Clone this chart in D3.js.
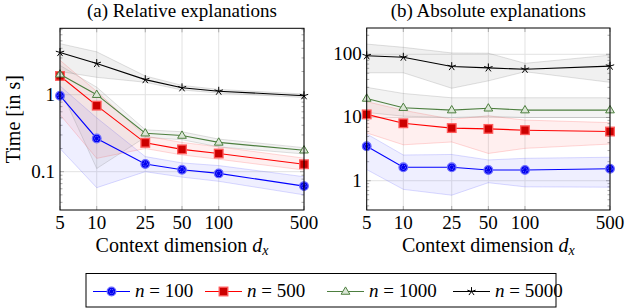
<!DOCTYPE html>
<html><head><meta charset="utf-8">
<script src="https://cdn.jsdelivr.net/npm/d3@7"></script>
<style>
html,body{margin:0;padding:0;background:#fff;}
svg{display:block;}
</style></head><body>
<svg id="chart" width="626" height="308"></svg>
<script>
// ---- data ----
const xVals = [5, 10, 25, 50, 100, 500];
const xTickLabels = ["5", "10", "25", "50", "100", "500"];
const seriesNames = ["n = 100", "n = 500", "n = 1000", "n = 5000"];

// (a) Relative explanations
const relN100   = [0.97, 0.27, 0.126, 0.106, 0.095, 0.065];
const relN100Lo = [0.2, 0.062, 0.1, 0.085, 0.075, 0.05];
const relN100Hi = [1.3, 0.5, 0.157, 0.13, 0.12, 0.086];
const relN500   = [1.75, 0.72, 0.237, 0.195, 0.172, 0.125];
const relN500Lo = [0.55, 0.149, 0.2, 0.165, 0.145, 0.105];
const relN500Hi = [2.8, 1.1, 0.29, 0.24, 0.21, 0.15];
const relN1000   = [1.84, 1.0, 0.316, 0.295, 0.24, 0.19];
const relN1000Lo = [1.2, 0.11, 0.28, 0.26, 0.21, 0.17];
const relN1000Hi = [2.4, 1.25, 0.35, 0.33, 0.265, 0.205];
const relN5000   = [3.53, 2.54, 1.57, 1.23, 1.11, 0.97];
const relN5000Lo = [2.0, 1.68, 1.45, 1.15, 1.05, 0.92];
const relN5000Hi = [4.6, 3.6, 1.75, 1.32, 1.17, 1.02];
const relYTicks = [0.1, 1];
const relYTickLabels = ["0.1", "1"];

// (b) Absolute explanations
const absN100   = [3.5, 1.63, 1.63, 1.48, 1.48, 1.55];
const absN100Lo = [1.5, 0.73, 0.59, 0.93, 0.8, 0.79];
const absN100Hi = [5.5, 2.55, 2.6, 2.13, 2.26, 2.35];
const absN500   = [11.2, 8.1, 6.8, 6.6, 6.3, 6.0];
const absN500Lo = [5.7, 3.7, 4.1, 2.7, 3.25, 3.8];
const absN500Hi = [17.8, 13, 9.4, 10.6, 9.1, 8.3];
const absN1000   = [20, 14.3, 13.1, 14, 13.1, 13.1];
const absN1000Lo = [12, 10.5, 10, 10.5, 10, 10];
const absN1000Hi = [30, 24, 20.5, 20.5, 20.5, 20.5];
const absN5000   = [95, 90, 64, 61, 58, 65];
const absN5000Lo = [51, 51, 29, 38, 53, 36];
const absN5000Hi = [145, 129, 105, 104, 72, 97];
const absYTicks = [1, 10, 100];
const absYTickLabels = ["1", "10", "100"];

// ---- styles ----
const FONT = "Liberation Serif";
const styles = [
  {line: "#0000ff", bandFill: "rgba(80,80,255,0.09)", bandEdge: "rgba(90,90,255,0.22)", mark: "circle"},
  {line: "#ff0000", bandFill: "rgba(255,80,80,0.09)", bandEdge: "rgba(255,80,80,0.22)", mark: "square"},
  {line: "#4d7f3f", bandFill: "rgba(120,120,120,0.09)", bandEdge: "rgba(120,120,120,0.22)", mark: "triangle"},
  {line: "#000000", bandFill: "rgba(120,120,120,0.11)", bandEdge: "rgba(120,120,120,0.22)", mark: "star"}
];

const svg = d3.select("#chart");
function txt(g, x, y, size) {
  return g.append("text").attr("x", x).attr("y", y).attr("font-family", FONT)
    .attr("font-size", size).attr("fill", "#000");
}

function drawMarker(g, type, x, y) {
  if (type === "circle") {
    g.append("circle").attr("cx", x).attr("cy", y).attr("r", 4.3)
      .attr("fill", "#0000ee").attr("stroke", "#6a6aff").attr("stroke-width", 1.3);
    g.append("circle").attr("cx", x).attr("cy", y).attr("r", 2.2)
      .attr("fill", "none").attr("stroke", "#9a9aff").attr("stroke-width", 0.8).attr("stroke-dasharray", "1,1");
  } else if (type === "square") {
    g.append("rect").attr("x", x - 4.3).attr("y", y - 4.3).attr("width", 8.6).attr("height", 8.6)
      .attr("fill", "#cc0000").attr("stroke", "#ff5a5a").attr("stroke-width", 1.3);
  } else if (type === "triangle") {
    const s = 4.6;
    g.append("path").attr("d", `M${x},${y - s}L${x + s * 0.95},${y + s * 0.6}L${x - s * 0.95},${y + s * 0.6}Z`)
      .attr("fill", "#dbe6d6").attr("stroke", "#4d7f3f").attr("stroke-width", 1);
  } else {
    const r = 4.4;
    let d = "";
    for (let k = 0; k < 5; k++) {
      const a = -Math.PI / 2 + k * 2 * Math.PI / 5;
      d += `M${x},${y}L${x + r * Math.cos(a)},${y + r * Math.sin(a)}`;
    }
    g.append("path").attr("d", d).attr("stroke", "#000").attr("stroke-width", 1).attr("fill", "none");
  }
}

function panel(opts) {
  const {x0, x1, y0, y1, yDomain, yTicks, yTickLabels, series, title, clipId, showYLabel} = opts;
  const x = d3.scaleLog().domain([5, 500]).range([x0, x1]);
  const y = d3.scaleLog().domain(yDomain).range([y1, y0]);
  const g = svg.append("g");

  g.append("clipPath").attr("id", clipId).append("rect")
    .attr("x", x0).attr("y", y0).attr("width", x1 - x0).attr("height", y1 - y0);

  // grid
  const grid = g.append("g").attr("stroke", "#e2e2e2").attr("stroke-width", 1);
  xVals.forEach(v => grid.append("line").attr("x1", x(v)).attr("x2", x(v)).attr("y1", y0).attr("y2", y1));
  yTicks.forEach(v => grid.append("line").attr("x1", x0).attr("x2", x1).attr("y1", y(v)).attr("y2", y(v)));

  // minor / major y ticks inside on both sides
  const tk = g.append("g").attr("stroke", "#999").attr("stroke-width", 0.8);
  const lo = Math.floor(Math.log10(yDomain[0])), hi = Math.ceil(Math.log10(yDomain[1]));
  for (let e = lo; e <= hi; e++) {
    for (let m = 1; m <= 9; m++) {
      const v = m * Math.pow(10, e);
      if (v < yDomain[0] || v > yDomain[1]) continue;
      const len = m === 1 ? 4 : 2.5;
      const yy = y(v);
      tk.append("line").attr("x1", x0).attr("x2", x0 + len).attr("y1", yy).attr("y2", yy);
      tk.append("line").attr("x1", x1).attr("x2", x1 - len).attr("y1", yy).attr("y2", yy);
    }
  }
  xVals.forEach(v => {
    tk.append("line").attr("x1", x(v)).attr("x2", x(v)).attr("y1", y1).attr("y2", y1 - 4);
    tk.append("line").attr("x1", x(v)).attr("x2", x(v)).attr("y1", y0).attr("y2", y0 + 4);
  });

  const plot = g.append("g").attr("clip-path", `url(#${clipId})`);
  // bands
  series.forEach((s, i) => {
    const st = styles[i];
    const area = d3.area().x((d, j) => x(xVals[j])).y0((d, j) => y(s.lo[j])).y1((d, j) => y(s.hi[j]));
    plot.append("path").attr("d", area(s.v)).attr("fill", st.bandFill).attr("stroke", "none");
    const ln = d3.line().x((d, j) => x(xVals[j])).y(d => y(d));
    plot.append("path").attr("d", ln(s.lo)).attr("fill", "none").attr("stroke", st.bandEdge).attr("stroke-width", 1);
    plot.append("path").attr("d", ln(s.hi)).attr("fill", "none").attr("stroke", st.bandEdge).attr("stroke-width", 1);
  });
  // lines and markers
  series.forEach((s, i) => {
    const st = styles[i];
    const ln = d3.line().x((d, j) => x(xVals[j])).y(d => y(d));
    g.append("path").attr("d", ln(s.v)).attr("fill", "none").attr("stroke", st.line).attr("stroke-width", 1.1);
    const mg = g.append("g");
    s.v.forEach((d, j) => drawMarker(mg, st.mark, x(xVals[j]), y(d)));
  });

  // frame
  g.append("rect").attr("x", x0).attr("y", y0).attr("width", x1 - x0).attr("height", y1 - y0)
    .attr("fill", "none").attr("stroke", "#000").attr("stroke-width", 1);

  // tick labels
  xVals.forEach((v, j) => txt(g, x(v), y1 + 19, 19).attr("text-anchor", "middle").text(xTickLabels[j]));
  yTicks.forEach((v, j) => txt(g, x0 - 5, y(v) + 6, 19).attr("text-anchor", "end").text(yTickLabels[j]));

  // title
  txt(g, (x0 + x1) / 2, 17, 19).attr("text-anchor", "middle").text(title);

  // x label
  const xl = txt(g, (x0 + x1) / 2, y1 + 42, 20).attr("text-anchor", "middle");
  xl.append("tspan").text("Context dimension ");
  xl.append("tspan").attr("font-style", "italic").text("d");
  xl.append("tspan").attr("font-style", "italic").attr("font-size", 14).attr("dy", 3).text("x");

  if (showYLabel) {
    txt(g, 0, 0, 20).attr("transform", `translate(20,${(y0 + y1) / 2}) rotate(-90)`)
      .attr("text-anchor", "middle").text("Time [in s]");
  }
}

panel({
  x0: 60, x1: 304, y0: 28.3, y1: 210,
  yDomain: [0.0318, 7.28], yTicks: relYTicks, yTickLabels: relYTickLabels,
  series: [
    {v: relN100, lo: relN100Lo, hi: relN100Hi},
    {v: relN500, lo: relN500Lo, hi: relN500Hi},
    {v: relN1000, lo: relN1000Lo, hi: relN1000Hi},
    {v: relN5000, lo: relN5000Lo, hi: relN5000Hi}
  ],
  title: "(a) Relative explanations", clipId: "clipA", showYLabel: true
});
panel({
  x0: 366.7, x1: 610, y0: 28, y1: 210,
  yDomain: [0.344, 260.6], yTicks: absYTicks, yTickLabels: absYTickLabels,
  series: [
    {v: absN100, lo: absN100Lo, hi: absN100Hi},
    {v: absN500, lo: absN500Lo, hi: absN500Hi},
    {v: absN1000, lo: absN1000Lo, hi: absN1000Hi},
    {v: absN5000, lo: absN5000Lo, hi: absN5000Hi}
  ],
  title: "(b) Absolute explanations", clipId: "clipB", showYLabel: false
});

// legend
const lg = svg.append("g");
lg.append("rect").attr("x", 86).attr("y", 273.5).attr("width", 470).attr("height", 33.5)
  .attr("fill", "#fff").attr("stroke", "#000").attr("stroke-width", 1);
const legX = [93, 205, 327, 453];
const legY = 291.5;
seriesNames.forEach((name, i) => {
  const st = styles[i];
  const lx = legX[i];
  lg.append("line").attr("x1", lx).attr("x2", lx + 37).attr("y1", legY).attr("y2", legY)
    .attr("stroke", st.line).attr("stroke-width", 1.1);
  drawMarker(lg, st.mark, lx + 18.5, legY);
  const parts = name.split(" = ");
  const t = txt(lg, lx + 42, legY + 5.5, 19);
  t.append("tspan").attr("font-style", "italic").text(parts[0]);
  t.append("tspan").text("\u2005=\u2005" + parts[1]);
});
</script>
</body></html>
